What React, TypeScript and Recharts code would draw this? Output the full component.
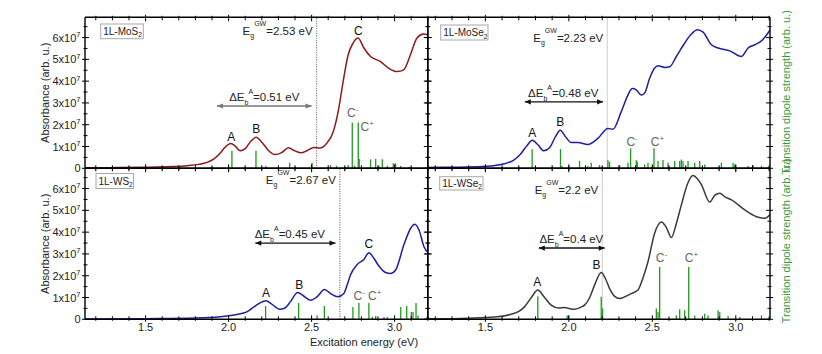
import React from 'react';
import { ComposedChart, Line, XAxis, YAxis, ReferenceLine, ReferenceDot } from 'recharts';

const FONT = '"Liberation Sans", Arial, Helvetica, sans-serif';
const W = 822;
const H = 354;
const AX = 1; // thickness reserved for each axis

// ---------- tick values ----------
const xTicks = [1.2, 1.3, 1.4, 1.5, 1.6, 1.7, 1.8, 1.9, 2.0, 2.1, 2.2, 2.3, 2.4, 2.5, 2.6, 2.7, 2.8, 2.9, 3.0, 3.1, 3.2];
const yTicks = [0, 0.5, 1, 1.5, 2, 2.5, 3, 3.5, 4, 4.5, 5, 5.5, 6, 6.5];

// ---------- 1L-MoS2 (absorbance in units of 10^7 arb. u.) ----------
const mos2E = [1.13, 1.3, 1.5, 1.65, 1.75, 1.82, 1.87, 1.91, 1.95, 1.98, 2.014, 2.04, 2.07, 2.1, 2.135, 2.166, 2.2, 2.24, 2.28, 2.32, 2.36, 2.4, 2.436, 2.475, 2.513, 2.55, 2.59, 2.63, 2.66, 2.69, 2.72, 2.75, 2.78, 2.815, 2.855, 2.915, 2.965, 3.015, 3.055, 3.095, 3.135, 3.175, 3.21];
const mos2A = [0.02, 0.03, 0.05, 0.08, 0.12, 0.18, 0.27, 0.42, 0.7, 0.98, 1.14, 1.02, 0.8, 0.9, 1.25, 1.43, 1.2, 0.82, 0.63, 0.72, 0.94, 0.8, 0.71, 0.82, 0.95, 0.93, 1.14, 1.67, 2.6, 3.98, 5.2, 5.75, 5.98, 5.52, 5.13, 4.9, 4.59, 4.44, 4.52, 5.2, 5.98, 6.16, 6.1];
const mos2StickE = [2.02, 2.165, 2.225, 2.368, 2.503, 2.614, 2.65, 2.72, 2.745, 2.759, 2.781, 2.787, 2.855, 2.886, 2.906, 2.926, 2.956, 2.992, 3.006, 3.037, 3.087];
const mos2StickS = [0.8, 0.8, 0.12, 0.25, 0.25, 0.15, 0.12, 0.15, 2.1, 0.12, 2.1, 0.43, 0.41, 0.43, 0.12, 0.41, 0.12, 0.23, 0.23, 0.1, 0.07];

// ---------- 1L-MoSe2 ----------
const mose2E = [1.15, 1.3, 1.45, 1.55, 1.62, 1.67, 1.71, 1.75, 1.78, 1.815, 1.85, 1.885, 1.92, 1.948, 1.98, 2.014, 2.054, 2.114, 2.174, 2.234, 2.264, 2.314, 2.354, 2.38, 2.404, 2.434, 2.454, 2.484, 2.514, 2.534, 2.574, 2.604, 2.644, 2.694, 2.734, 2.77, 2.804, 2.854, 2.894, 2.964, 3.034, 3.074, 3.114, 3.154, 3.21];
const mose2A = [0.04, 0.05, 0.07, 0.12, 0.22, 0.38, 0.65, 1.05, 1.29, 1.08, 0.8, 0.95, 1.45, 1.75, 1.45, 1.18, 1.18, 1.09, 1.37, 1.83, 1.79, 2.6, 3.36, 3.66, 3.6, 3.36, 3.45, 4.13, 4.6, 4.71, 4.63, 4.66, 5.13, 5.75, 6.16, 6.36, 6.25, 5.67, 5.52, 5.39, 5.13, 5.52, 5.67, 5.85, 6.4];
const mose2StickE = [1.78, 1.95, 1.958, 2.064, 2.114, 2.134, 2.184, 2.234, 2.244, 2.304, 2.354, 2.37, 2.404, 2.41, 2.454, 2.474, 2.51, 2.534, 2.564, 2.594, 2.634, 2.664, 2.674, 2.684, 2.714, 2.754, 2.784, 2.814, 2.914, 2.984, 2.994, 3.074, 3.104, 3.154];
const mose2StickS = [0.88, 0.88, 0.1, 0.34, 0.1, 0.26, 0.15, 0.37, 0.3, 0.15, 0.26, 0.92, 0.37, 0.3, 0.18, 0.26, 0.92, 0.34, 0.38, 0.26, 0.34, 0.34, 0.4, 0.34, 0.34, 0.26, 0.34, 0.18, 0.26, 0.26, 0.18, 0.11, 0.15, 0.11];

// ---------- 1L-WS2 ----------
const ws2E = [1.13, 1.5, 1.8, 1.95, 2.05, 2.11, 2.17, 2.225, 2.26, 2.307, 2.34, 2.372, 2.416, 2.45, 2.493, 2.535, 2.577, 2.615, 2.658, 2.694, 2.714, 2.734, 2.775, 2.815, 2.845, 2.875, 2.905, 2.946, 2.976, 3.006, 3.057, 3.097, 3.121, 3.147, 3.177, 3.21];
const ws2A = [0.01, 0.03, 0.06, 0.12, 0.22, 0.34, 0.66, 0.85, 0.7, 0.46, 0.52, 0.8, 1.23, 1.08, 0.88, 1.05, 1.37, 1.18, 1.03, 1.18, 1.57, 2.03, 2.52, 2.74, 3.06, 2.8, 2.45, 2.15, 2.1, 2.26, 3.44, 4.18, 4.36, 4.1, 3.33, 3.0];
const ws2StickE = [2.223, 2.422, 2.533, 2.577, 2.749, 2.785, 2.845, 2.866, 2.886, 2.936, 2.956, 3.037, 3.073, 3.101, 3.111, 3.129, 3.141, 3.195];
const ws2StickS = [0.61, 0.75, 0.18, 0.61, 0.57, 0.75, 0.75, 0.11, 0.15, 0.11, 0.11, 0.57, 0.61, 0.34, 0.34, 0.75, 0.18, 0.1];

// ---------- 1L-WSe2 ----------
const wse2E = [1.15, 1.4, 1.554, 1.654, 1.7, 1.734, 1.775, 1.814, 1.85, 1.894, 1.94, 1.974, 2.0, 2.034, 2.07, 2.094, 2.125, 2.154, 2.194, 2.22, 2.244, 2.275, 2.304, 2.34, 2.374, 2.414, 2.444, 2.474, 2.514, 2.554, 2.585, 2.614, 2.644, 2.674, 2.71, 2.744, 2.77, 2.794, 2.844, 2.875, 2.904, 2.935, 2.974, 3.054, 3.124, 3.174, 3.21];
const wse2A = [0.02, 0.05, 0.1, 0.23, 0.36, 0.57, 1.0, 1.34, 1.05, 0.65, 0.52, 0.54, 0.5, 0.46, 0.55, 0.65, 1.0, 1.57, 2.15, 1.85, 1.41, 1.05, 0.95, 1.05, 1.18, 1.34, 1.9, 2.64, 3.95, 4.46, 4.2, 3.75, 4.4, 5.25, 6.2, 6.6, 6.45, 6.18, 5.38, 5.7, 5.79, 5.62, 5.48, 5.02, 4.71, 4.64, 4.85];
const wse2StickE = [1.814, 1.99, 1.998, 2.194, 2.202, 2.524, 2.534, 2.544, 2.644, 2.664, 2.694, 2.718, 2.754, 2.814, 2.834, 2.894, 2.904, 2.954, 3.024, 3.154];
const wse2StickS = [1.06, 0.18, 0.18, 1.03, 0.5, 0.49, 0.34, 2.4, 0.18, 0.46, 0.41, 2.4, 0.18, 0.26, 0.18, 0.41, 0.34, 0.15, 0.11, 0.18];

const STICK = '#1f9a1f';
const AXIS = { stroke: '#000', strokeWidth: 1.4 };

type Peak = { t: string; sup?: string; x: number; y: number; gray?: boolean; anchor: 'start' | 'middle' };
type Panel = {
  name: string; sub: string; color: string;
  e: number[]; a: number[]; se: number[]; ss: number[];
  eg: number; egText: string; egY: number; egDotted: boolean;
  arrow: [number, number, number]; arrowColor: string; arrowWidth: number;
  dE: string; dEx: number; dEy: number;
  peaks: Peak[];
  rect: { l: number; t: number; r: number; b: number };
  domain: [number, number];
  yLabels: boolean; xLabels: boolean;
  box: { x: number; y: number; w: number; h: number };
};

const panels: Panel[] = [
  {
    name: '1L-MoS', sub: '2', color: '#8c1a1a', e: mos2E, a: mos2A, se: mos2StickE, ss: mos2StickS,
    eg: 2.53, egText: '2.53', egY: 6.28, egDotted: true,
    arrow: [1.93, 2.5, 2.86], arrowColor: '#777', arrowWidth: 1.3,
    dE: '0.51', dEx: 2.215, dEy: 3.28,
    peaks: [
      { t: 'A', x: 2.016, y: 1.45, anchor: 'middle' },
      { t: 'B', x: 2.167, y: 1.8, anchor: 'middle' },
      { t: 'C', x: 2.782, y: 6.29, anchor: 'middle' },
      { t: 'C', sup: '-', x: 2.714, y: 2.53, gray: true, anchor: 'start' },
      { t: 'C', sup: '+', x: 2.795, y: 1.91, gray: true, anchor: 'start' },
    ],
    rect: { l: 85, t: 17.3, r: 427.8, b: 168.3 }, domain: [1.135, 3.2],
    yLabels: true, xLabels: false, box: { x: 100.7, y: 24, w: 42.6, h: 14.7 },
  },
  {
    name: '1L-MoSe', sub: '2', color: '#1f1f9c', e: mose2E, a: mose2A, se: mose2StickE, ss: mose2StickS,
    eg: 2.23, egText: '2.23', egY: 6.0, egDotted: false,
    arrow: [1.736, 2.205, 3.05], arrowColor: '#111', arrowWidth: 1.3,
    dE: '0.48', dEx: 1.966, dEy: 3.47,
    peaks: [
      { t: 'A', x: 1.781, y: 1.65, anchor: 'middle' },
      { t: 'B', x: 1.949, y: 2.14, anchor: 'middle' },
      { t: 'C', sup: '-', x: 2.345, y: 1.22, gray: true, anchor: 'start' },
      { t: 'C', sup: '+', x: 2.491, y: 1.2, gray: true, anchor: 'start' },
    ],
    rect: { l: 427.8, t: 17.3, r: 770, b: 168.3 }, domain: [1.155, 3.205],
    yLabels: false, xLabels: false, box: { x: 440.7, y: 25, w: 47.3, h: 15 },
  },
  {
    name: '1L-WS', sub: '2', color: '#1f1f9c', e: ws2E, a: ws2A, se: ws2StickE, ss: ws2StickS,
    eg: 2.67, egText: '2.67', egY: 6.4, egDotted: true,
    arrow: [2.161, 2.644, 3.5], arrowColor: '#111', arrowWidth: 1.3,
    dE: '0.45', dEx: 2.369, dEy: 3.92,
    peaks: [
      { t: 'A', x: 2.225, y: 1.2, anchor: 'middle' },
      { t: 'B', x: 2.425, y: 1.58, anchor: 'middle' },
      { t: 'C', x: 2.845, y: 3.45, anchor: 'middle' },
      { t: 'C', sup: '-', x: 2.753, y: 1.09, gray: true, anchor: 'start' },
      { t: 'C', sup: '+', x: 2.84, y: 1.09, gray: true, anchor: 'start' },
    ],
    rect: { l: 85, t: 168.3, r: 427.8, b: 319.3 }, domain: [1.135, 3.2],
    yLabels: true, xLabels: true, box: { x: 96, y: 173.5, w: 37.5, h: 15 },
  },
  {
    name: '1L-WSe', sub: '2', color: '#3a3a3a', e: wse2E, a: wse2A, se: wse2StickE, ss: wse2StickS,
    eg: 2.2, egText: '2.2', egY: 5.93, egDotted: false,
    arrow: [1.82, 2.215, 3.27], arrowColor: '#111', arrowWidth: 1.6,
    dE: '0.4', dEx: 2.015, dEy: 3.69,
    peaks: [
      { t: 'A', x: 1.811, y: 1.7, anchor: 'middle' },
      { t: 'B', x: 2.165, y: 2.5, anchor: 'middle' },
      { t: 'C', sup: '-', x: 2.521, y: 2.81, gray: true, anchor: 'start' },
      { t: 'C', sup: '+', x: 2.695, y: 2.81, gray: true, anchor: 'start' },
    ],
    rect: { l: 427.8, t: 168.3, r: 770, b: 319.3 }, domain: [1.155, 3.205],
    yLabels: false, xLabels: true, box: { x: 439.7, y: 176.7, w: 43.3, h: 13.3 },
  },
];

// ---------- tick renderers (crossing ticks, like the reference) ----------
const isMajorY = (v: number) => Math.abs(v - Math.round(v)) < 1e-6;
const isMajorX = (v: number) => Math.abs(v * 2 - Math.round(v * 2)) < 1e-6;

const yTick = (side: 'left' | 'right', label: boolean) => (props: any) => {
  const { x, y, payload } = props;
  const v = payload.value as number;
  const major = isMajorY(v);
  const d = side === 'left' ? 1 : -1;
  const inL = major ? 4 : 2.5;
  const outL = major ? 3 : 1.5;
  return (
    <g>
      <line x1={x - d * outL} x2={x + d * inL} y1={y} y2={y} stroke="#000" strokeWidth={1} />
      {label && major ? (
        <text x={x - 4.5} y={y + 4} textAnchor="end" fontSize={11} fontFamily={FONT} fill="#222">
          {v === 0 ? '0' : (
            <>
              {`${v}x10`}
              <tspan dy={-4.5} fontSize={7.5}>7</tspan>
            </>
          )}
        </text>
      ) : null}
    </g>
  );
};

const xTick = (side: 'top' | 'bottom', label: boolean) => (props: any) => {
  const { x, y, payload } = props;
  const v = payload.value as number;
  const major = isMajorX(v);
  const d = side === 'bottom' ? -1 : 1;
  const inL = major ? 4 : 3;
  const outL = major ? 2.5 : 1.5;
  return (
    <g>
      <line x1={x} x2={x} y1={y - d * outL} y2={y + d * inL} stroke="#000" strokeWidth={1} />
      {label && major ? (
        <text x={x} y={y + 11.7} textAnchor="middle" fontSize={11} fontFamily={FONT} fill="#222">
          {v.toFixed(1)}
        </text>
      ) : null}
    </g>
  );
};

const arrowHead = (dir: number, color: string) => (sp: any) => {
  const { cx, cy } = sp;
  const L = 6;
  const h = 2.6;
  return <path d={`M${cx},${cy} L${cx + dir * L},${cy - h} L${cx + dir * L},${cy + h} Z`} fill={color} />;
};

function PanelChart({ p }: { p: Panel }) {
  const data = p.e.map((e, i) => ({ e, a: p.a[i] }));
  const margin = {
    left: p.rect.l - AX,
    top: p.rect.t - AX,
    right: W - p.rect.r - AX,
    bottom: H - p.rect.b - AX,
  };
  const [a0, a1, ay] = p.arrow;
  return (
    <div style={{ position: 'absolute', left: 0, top: 0 }}>
      <ComposedChart width={W} height={H} data={data} margin={margin}>
        <XAxis xAxisId="b" dataKey="e" type="number" orientation="bottom" domain={p.domain} allowDataOverflow
          ticks={xTicks} interval={0} tickSize={0} tickMargin={0} height={AX} axisLine={AXIS} tickLine={false}
          tick={xTick('bottom', p.xLabels)} />
        <XAxis xAxisId="t" dataKey="e" type="number" orientation="top" domain={p.domain} allowDataOverflow
          ticks={xTicks} interval={0} tickSize={0} tickMargin={0} height={AX} axisLine={AXIS} tickLine={false}
          tick={xTick('top', false)} />
        <YAxis yAxisId="l" type="number" orientation="left" domain={[0, 6.93]} allowDataOverflow
          ticks={yTicks} interval={0} tickSize={0} tickMargin={0} width={AX} axisLine={AXIS} tickLine={false}
          tick={yTick('left', p.yLabels)} />
        <YAxis yAxisId="r" type="number" orientation="right" domain={[0, 6.93]} allowDataOverflow
          ticks={yTicks} interval={0} tickSize={0} tickMargin={0} width={AX} axisLine={AXIS} tickLine={false}
          tick={yTick('right', false)} />

        <ReferenceLine xAxisId="b" yAxisId="l" x={p.eg}
          stroke={p.egDotted ? '#8a8a8a' : '#cfcfcf'} strokeWidth={p.egDotted ? 1.2 : 1}
          strokeDasharray={p.egDotted ? '1.2 1.2' : undefined} />

        {p.se.map((e, i) => (
          <ReferenceLine key={`s${i}`} xAxisId="b" yAxisId="r"
            segment={[{ x: e, y: 0 }, { x: e, y: p.ss[i] }]} stroke={STICK} strokeWidth={1.3} />
        ))}

        <Line xAxisId="b" yAxisId="l" dataKey="a" type="monotone" stroke={p.color} strokeWidth={1.5}
          dot={false} isAnimationActive={false} />

        <ReferenceLine xAxisId="b" yAxisId="l" segment={[{ x: a0, y: ay }, { x: a1, y: ay }]}
          stroke={p.arrowColor} strokeWidth={p.arrowWidth} />
        <ReferenceDot xAxisId="b" yAxisId="l" x={a0} y={ay} r={0} shape={arrowHead(1, p.arrowColor)} />
        <ReferenceDot xAxisId="b" yAxisId="l" x={a1} y={ay} r={0} shape={arrowHead(-1, p.arrowColor)} />

        <ReferenceDot xAxisId="b" yAxisId="l" x={p.eg} y={p.egY} r={0}
          shape={(sp: any) => (
            <text x={sp.cx - 4} y={sp.cy + 4} textAnchor="end" fontSize={11.5} fontFamily={FONT} fill="#222">
              E<tspan fontSize={7} dy={3}>g</tspan>
              <tspan fontSize={7} dy={-12}>GW</tspan>
              <tspan dy={9}>{`=${p.egText} eV`}</tspan>
            </text>
          )} />
        <ReferenceDot xAxisId="b" yAxisId="l" x={p.dEx} y={p.dEy} r={0}
          shape={(sp: any) => (
            <text x={sp.cx} y={sp.cy + 4} textAnchor="middle" fontSize={11.5} fontFamily={FONT} fill="#222">
              ΔE<tspan fontSize={7} dy={4}>b</tspan>
              <tspan fontSize={7} dy={-11}>A</tspan>
              <tspan dy={7}>{`=${p.dE} eV`}</tspan>
            </text>
          )} />
        {p.peaks.map((pk, i) => (
          <ReferenceDot key={`p${i}`} xAxisId="b" yAxisId="l" x={pk.x} y={pk.y} r={0}
            shape={(sp: any) => (
              <text x={sp.cx} y={sp.cy + 4.2} textAnchor={pk.anchor} fontSize={12} fontFamily={FONT}
                fill={pk.gray ? '#666' : '#111'}>
                {pk.t}
                {pk.sup ? <tspan fontSize={8} dy={-5}>{pk.sup}</tspan> : null}
              </text>
            )} />
        ))}
      </ComposedChart>
    </div>
  );
}

export default function App() {
  return (
    <div style={{ position: 'absolute', left: 0, top: 0, width: W, height: H, background: '#fff', fontFamily: FONT }}>
      {panels.map((p) => (
        <PanelChart key={p.name} p={p} />
      ))}
      <svg width={W} height={H} style={{ position: 'absolute', left: 0, top: 0, pointerEvents: 'none' }}>
        {panels.map((p) => (
          <g key={`box${p.name}`}>
            <rect x={p.box.x} y={p.box.y} width={p.box.w} height={p.box.h} fill="#fff" stroke="#a8a8a8" strokeWidth={1} />
            <text x={p.box.x + 2.5} y={p.box.y + p.box.h / 2 + 3.6} fontSize={10} fontFamily={FONT} fill="#222">
              {p.name}
              <tspan fontSize={6.5} dy={2.5}>{p.sub}</tspan>
            </text>
          </g>
        ))}
        <text transform="translate(48.5,92.8) rotate(-90)" textAnchor="middle" fontSize={11} fontFamily={FONT} fill="#222">Absorbance (arb. u.)</text>
        <text transform="translate(48.5,243.8) rotate(-90)" textAnchor="middle" fontSize={11} fontFamily={FONT} fill="#222">Absorbance (arb. u.)</text>
        <text x={364} y={346} textAnchor="middle" fontSize={11} fontFamily={FONT} fill="#222">Excitation energy (eV)</text>
        <text transform="translate(789.5,92.5) rotate(-90)" textAnchor="middle" fontSize={11} fontFamily={FONT} fill="#3a9a3a">Transition dipole strength (arb. u.)</text>
        <text transform="translate(789.5,241) rotate(-90)" textAnchor="middle" fontSize={11} fontFamily={FONT} fill="#3a9a3a">Transition dipole strength (arb. u.)</text>
      </svg>
    </div>
  );
}
